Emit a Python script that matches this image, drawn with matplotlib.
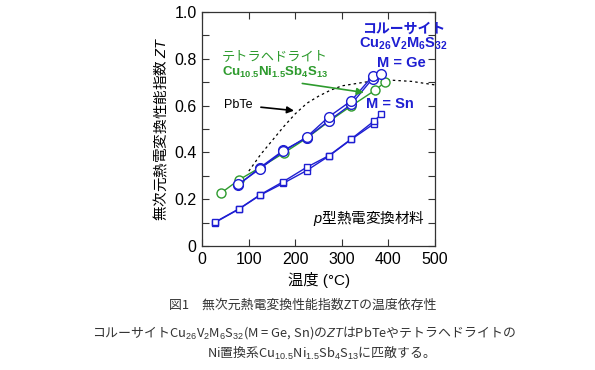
import matplotlib
matplotlib.use("Agg")
import matplotlib.pyplot as plt

plt.rcParams['font.family'] = ['Liberation Sans', 'Noto Sans CJK JP', 'DejaVu Sans']
plt.rcParams['mathtext.fontset'] = 'custom'
plt.rcParams['mathtext.rm'] = 'Liberation Sans'
plt.rcParams['mathtext.it'] = 'Liberation Sans:italic'
plt.rcParams['mathtext.bf'] = 'Liberation Sans:bold'

# データ
ge1_t = [77, 124, 174, 224, 272, 320, 366, 385]
ge1_zt = [0.263, 0.33, 0.404, 0.465, 0.552, 0.62, 0.726, 0.734]
ge2_t = [77, 124, 174, 224, 272, 320, 366]
ge2_zt = [0.26, 0.335, 0.408, 0.462, 0.535, 0.605, 0.715]

sn1_t = [27, 79, 125, 174, 224, 272, 320, 368, 385]
sn1_zt = [0.102, 0.159, 0.22, 0.275, 0.336, 0.386, 0.457, 0.532, 0.563]
sn2_t = [27, 79, 125, 174, 224, 272, 320, 368]
sn2_zt = [0.1, 0.158, 0.218, 0.268, 0.322, 0.384, 0.455, 0.521]

tet_t = [40, 79, 124, 175, 224, 272, 320, 371, 393]
tet_zt = [0.226, 0.283, 0.335, 0.397, 0.46, 0.532, 0.598, 0.665, 0.70]

pbte_t = [100, 125, 150, 175, 200, 225, 250, 275, 300, 350, 400, 450, 500]
pbte_zt = [0.32, 0.39, 0.45, 0.51, 0.565, 0.61, 0.64, 0.665, 0.684, 0.70, 0.709, 0.703, 0.688]

blue = '#1e1ed2'
green = '#2e9b2e'
cjk = ['Noto Sans CJK JP', 'Liberation Sans', 'DejaVu Sans']

fig = plt.figure(figsize=(5.95, 3.70), dpi=100)
ax = fig.add_axes([0.340, 0.335, 0.391, 0.633])

ax.plot(pbte_t, pbte_zt, color='black', ls=(0, (2, 2.5)), lw=0.9)
ax.plot(tet_t, tet_zt, color=green, lw=1.0, marker='o', ms=6.5, mfc='white', mec=green, mew=1.0)
ax.plot(ge2_t, ge2_zt, color=blue, lw=1.0, marker='o', ms=7, mfc='white', mec=blue, mew=1.0)
ax.plot(ge1_t, ge1_zt, color=blue, lw=1.0, marker='o', ms=7, mfc='white', mec=blue, mew=1.0)
ax.plot(sn2_t, sn2_zt, color=blue, lw=1.0, marker='s', ms=5, mfc='white', mec=blue, mew=1.0)
ax.plot(sn1_t, sn1_zt, color=blue, lw=1.0, marker='s', ms=5, mfc='white', mec=blue, mew=1.0)

ax.set_xlim(0, 500)
ax.set_ylim(0, 1.0)
ax.set_xticks([0, 100, 200, 300, 400, 500])
ax.set_yticks([0, 0.2, 0.4, 0.6, 0.8, 1.0])
ax.set_yticklabels(['0', '0.2', '0.4', '0.6', '0.8', '1.0'])
ax.set_yticks([0.1, 0.3, 0.5, 0.7, 0.9], minor=True)
ax.tick_params(which='both', direction='in', top=True, right=True, length=5, width=0.8,
               labelsize=11.5, pad=4, color='#333333')
for s in ax.spines.values():
    s.set_color('#333333')
    s.set_linewidth(0.9)

ax.set_xlabel('温度 (°C)', fontsize=11, labelpad=4)
ax.set_ylabel('無次元熱電変換性能指数 $\\mathit{ZT}$', family=cjk, fontsize=10.5, labelpad=4)

# 注釈
ax.text(433, 0.93, 'コルーサイト', family=cjk, color=blue, fontsize=10, fontweight='bold',
        ha='center', va='center')
ax.text(431, 0.862, r'$\mathbf{Cu_{26}V_{2}M_{6}S_{32}}$', color=blue, fontsize=10.5,
        ha='center', va='center')
ax.text(428, 0.78, 'M = Ge', color=blue, fontsize=10.5, fontweight='bold', ha='center', va='center')
ax.text(403, 0.607, 'M = Sn', color=blue, fontsize=10.5, fontweight='bold', ha='center', va='center')

ax.text(42, 0.807, 'テトラヘドライト', family=cjk, color=green, fontsize=9.5, ha='left', va='center')
ax.text(42, 0.74, r'$\mathbf{Cu_{10.5}Ni_{1.5}Sb_{4}S_{13}}$', color=green, fontsize=9.5,
        ha='left', va='center')
ax.annotate('', xy=(353, 0.654), xytext=(209, 0.696),
            arrowprops=dict(arrowstyle='-|>', color=green, lw=1.2, mutation_scale=10))

ax.text(47, 0.603, 'PbTe', color='black', fontsize=9, ha='left', va='center')
ax.annotate('', xy=(203, 0.577), xytext=(120, 0.594),
            arrowprops=dict(arrowstyle='-|>', color='black', lw=1.2, mutation_scale=10))

ax.text(478, 0.118, '$\\mathit{p}$型熱電変換材料', family=cjk, fontsize=10.5, ha='right', va='center')

# キャプション
fig.text(0.508, 1 - 305 / 370, '図1　無次元熱電変換性能指数ZTの温度依存性', family=cjk,
         fontsize=9.3, color='#333333', ha='center', va='center')
fig.text(0.51, 1 - 333 / 370,
         'コルーサイトCu$_{26}$V$_{2}$M$_{6}$S$_{32}$(M = Ge, Sn)の$\\mathit{ZT}$はPbTeやテトラヘドライトの',
         family=cjk, fontsize=9.3, color='#333333', ha='center', va='center')
fig.text(0.535, 1 - 353 / 370, 'Ni置換系Cu$_{10.5}$Ni$_{1.5}$Sb$_{4}$S$_{13}$に匹敵する。',
         family=cjk, fontsize=9.3, color='#333333', ha='center', va='center')

fig.savefig('out.png', dpi=100)
